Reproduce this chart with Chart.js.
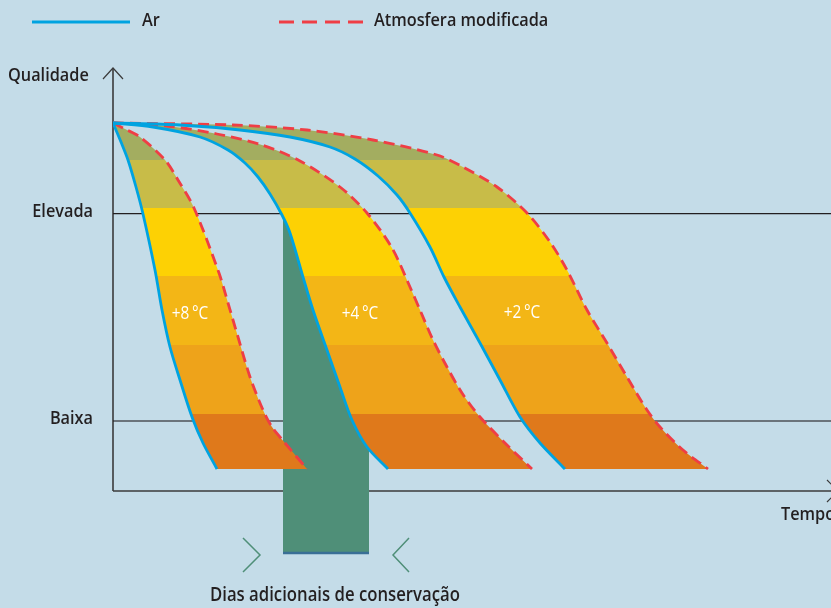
<!DOCTYPE html>
<html>
<head>
<meta charset="utf-8">
<script src="https://cdn.jsdelivr.net/npm/chart.js@4.4.1/dist/chart.umd.min.js"></script>
<style>
  html, body { margin: 0; padding: 0; background: #c4dce8; }
  canvas { display: block; }
</style>
</head>
<body>
<canvas id="grafico" width="831" height="608"></canvas>
<script>
// Escalas do gráfico (unidades arbitrárias de tempo e qualidade)
const tempoMax = 718;
const qualidadeMin = -69;
const qualidadeMax = 423;

// Níveis de qualidade marcados no eixo vertical
const qualidadeTicks = [70, 277];
const qualidadeLabels = ['Baixa', 'Elevada'];

// Curvas de perda de qualidade: Ar (linha contínua) e atmosfera modificada (tracejada)
const ar8Tempo = [0, 8, 15, 23, 30, 42, 49, 57, 67, 79, 90, 104];
const ar8Qual = [368, 349, 331, 304, 277, 221, 181, 144, 111, 74, 48, 22];
const am8Tempo = [0, 12, 27, 52, 65, 81, 106, 115, 125, 137, 150, 159, 172, 194];
const am8Qual = [368, 362, 354, 331, 311, 283, 218, 188, 154, 114, 81, 64, 48, 22];

const ar4Tempo = [0, 40, 87, 115, 132, 145, 157, 169, 177, 190, 200, 214, 227, 239, 254, 275];
const ar4Qual = [368, 364, 354, 341, 328, 314, 297, 276, 258, 214, 181, 141, 104, 71, 44, 22];
const am4Tempo = [0, 54, 104, 149, 187, 227, 254, 279, 297, 307, 320, 334, 349, 367, 394, 419];
const am4Qual = [368, 365, 357, 346, 330, 304, 278, 243, 204, 181, 151, 124, 98, 74, 46, 22];

const ar2Tempo = [0, 67, 127, 177, 217, 242, 265, 284, 297, 317, 331, 347, 367, 387, 407, 427, 452];
const ar2Qual = [368, 366, 361, 354, 344, 332, 315, 296, 278, 244, 214, 184, 148, 111, 74, 48, 22];
const am2Tempo = [0, 120, 194, 260, 324, 350, 384, 414, 437, 454, 474, 494, 514, 534, 547, 570, 595];
const am2Qual = [368, 366, 361, 351, 336, 324, 304, 278, 249, 221, 181, 148, 114, 81, 64, 41, 22];

// Rótulos das temperaturas
const temperaturas = ['+8\u2009°C', '+4\u2009°C', '+2\u2009°C'];
const temperaturaTempo = [77, 247, 409];
const temperaturaQual = [172, 172, 173];

// Dias adicionais de conservação (+4 °C, nível Elevada)
const diasTempo = [170, 256];
const diasQual = [277, -62];

// Faixas de cor (limites em qualidade, de cima para baixo)
const faixaLimites = [368, 331, 283, 215, 146, 77, 22];
const faixaCores = ['#a3ad60', '#c8bc48', '#fdd104', '#f3b616', '#eea31a', '#df791b'];

const azul = '#00a3e0';
const vermelho = '#ef3e45';
const verde = '#4f8f78';
const fundo = '#c4dce8';
const tinta = '#231f20';
const estreito = 0.88;

const pontos = (xs, ys) => xs.map((x, i) => ({ x: x, y: ys[i] }));

function faixas(chart) {
    const y = chart.scales.y;
    if (!chart.chartArea || !y) return faixaCores[2];
    const topo = y.getPixelForValue(faixaLimites[0]);
    const base = y.getPixelForValue(faixaLimites[faixaLimites.length - 1]);
    const g = chart.ctx.createLinearGradient(0, topo, 0, base);
    faixaCores.forEach((cor, i) => {
        const a = (y.getPixelForValue(faixaLimites[i]) - topo) / (base - topo);
        const b = (y.getPixelForValue(faixaLimites[i + 1]) - topo) / (base - topo);
        g.addColorStop(a, cor);
        g.addColorStop(b, cor);
    });
    return g;
}

function texto(ctx, str, x, y, size, weight, color, align) {
    ctx.save();
    ctx.font = weight + ' ' + size + "px 'Open Sans', sans-serif";
    ctx.fillStyle = color;
    ctx.textBaseline = 'alphabetic';
    ctx.textAlign = align || 'left';
    ctx.translate(x, y);
    ctx.scale(estreito, 1);
    ctx.fillText(str, 0, 0);
    ctx.restore();
}

const curvaAr = (xs, ys, alvo) => ({
    label: 'Ar',
    data: pontos(xs, ys),
    borderColor: azul,
    borderWidth: 2.8,
    backgroundColor: (c) => faixas(c.chart),
    fill: alvo,
    order: 1
});

const curvaAm = (xs, ys) => ({
    label: 'Atmosfera modificada',
    data: pontos(xs, ys),
    borderColor: vermelho,
    borderWidth: 2.8,
    borderDash: [11, 6],
    fill: false,
    order: 2
});

const datasets = [
    curvaAr(ar8Tempo, ar8Qual, 1),
    curvaAm(am8Tempo, am8Qual),
    curvaAr(ar4Tempo, ar4Qual, 3),
    curvaAm(am4Tempo, am4Qual),
    curvaAr(ar2Tempo, ar2Qual, 5),
    curvaAm(am2Tempo, am2Qual),
    {
        label: 'dias-esq',
        data: pontos([diasTempo[0], diasTempo[0]], diasQual),
        borderWidth: 0,
        borderColor: 'transparent',
        backgroundColor: verde,
        fill: 7,
        tension: 0,
        order: 5
    },
    {
        label: 'dias-dir',
        data: pontos([diasTempo[1], diasTempo[1]], diasQual),
        borderWidth: 0,
        borderColor: 'transparent',
        fill: false,
        tension: 0,
        order: 5
    },
    {
        label: 'dias-base',
        data: pontos(diasTempo, [diasQual[1], diasQual[1]]),
        borderWidth: 2.6,
        borderColor: '#3a6f96',
        fill: false,
        tension: 0,
        order: 4
    }
];

// Eixos com setas
const eixos = {
    id: 'eixos',
    beforeDraw(chart) {
        const { ctx, scales: { x, y } } = chart;
        const x0 = x.getPixelForValue(0);
        const y0 = y.getPixelForValue(0);
        const yTopo = y.getPixelForValue(qualidadeMax);
        const xFim = x.getPixelForValue(tempoMax) + 7;
        ctx.save();
        ctx.fillStyle = fundo;
        ctx.fillRect(0, 0, chart.width, chart.height);
        ctx.strokeStyle = '#3b3b3b';
        ctx.lineWidth = 1.6;
        ctx.beginPath();
        ctx.moveTo(x0, y0);
        ctx.lineTo(x0, yTopo);
        ctx.moveTo(x0, y0);
        ctx.lineTo(xFim, y0);
        ctx.stroke();
        ctx.lineWidth = 1.2;
        ctx.beginPath();
        ctx.moveTo(x0 - 10, yTopo + 11);
        ctx.lineTo(x0, yTopo);
        ctx.lineTo(x0 + 10, yTopo + 11);
        ctx.moveTo(xFim - 11, y0 - 11);
        ctx.lineTo(xFim, y0);
        ctx.lineTo(xFim - 11, y0 + 11);
        ctx.stroke();
        ctx.restore();
    }
};

// Rótulos das temperaturas dentro das faixas
const rotulos = {
    id: 'rotulos',
    afterDatasetsDraw(chart) {
        const { ctx, scales: { x, y } } = chart;
        temperaturas.forEach((t, i) => {
            texto(ctx, t, x.getPixelForValue(temperaturaTempo[i]), y.getPixelForValue(temperaturaQual[i]),
                17.5, 500, '#ffffff', 'center');
        });
    }
};

// Legenda, títulos dos eixos e nota dos dias adicionais
const anotacoes = {
    id: 'anotacoes',
    afterDraw(chart) {
        const { ctx, scales: { x, y } } = chart;
        const ds = chart.data.datasets;

        // legenda
        const itens = [[ds[0], 32, 130, 142], [ds[1], 279, 365, 374]];
        itens.forEach(([d, x1, x2, xt]) => {
            ctx.save();
            ctx.strokeStyle = d.borderColor;
            ctx.lineWidth = 3;
            ctx.setLineDash(d.borderDash ? [15, 8] : []);
            ctx.beginPath();
            ctx.moveTo(x1, 22);
            ctx.lineTo(x2, 22);
            ctx.stroke();
            ctx.restore();
            texto(ctx, d.label, xt, 26, 18.5, 600, tinta);
        });

        // títulos e níveis dos eixos
        texto(ctx, 'Qualidade', 8, 81, 18.5, 600, tinta);
        texto(ctx, 'Tempo', 781, 520, 18.5, 600, tinta);
        qualidadeTicks.forEach((v, i) => {
            texto(ctx, qualidadeLabels[i], 93, y.getPixelForValue(v) + 2.5, 18.5, 600, tinta, 'right');
        });

        // setas e texto dos dias adicionais
        const xa = x.getPixelForValue(diasTempo[0]);
        const xb = x.getPixelForValue(diasTempo[1]);
        const yc = y.getPixelForValue(diasQual[1]) + 2;
        ctx.save();
        ctx.strokeStyle = verde;
        ctx.lineWidth = 1.5;
        ctx.beginPath();
        ctx.moveTo(xa - 40, yc - 17);
        ctx.lineTo(xa - 23, yc);
        ctx.lineTo(xa - 40, yc + 17);
        ctx.moveTo(xb + 40, yc - 17);
        ctx.lineTo(xb + 24, yc);
        ctx.lineTo(xb + 40, yc + 17);
        ctx.stroke();
        ctx.restore();
        texto(ctx, 'Dias adicionais de conservação', xa - 73, 601, 19, 600, tinta);
    }
};

new Chart(document.getElementById('grafico'), {
    type: 'line',
    data: { datasets: datasets },
    options: {
        responsive: false,
        animation: false,
        indexAxis: 'y',
        layout: { padding: { left: 0, right: 0, top: 68, bottom: 48 } },
        elements: {
            point: { radius: 0, hoverRadius: 0 },
            line: { tension: 0.3 }
        },
        plugins: {
            legend: { display: false },
            tooltip: { enabled: false },
            filler: { drawTime: 'beforeDatasetsDraw', propagate: false }
        },
        scales: {
            x: { type: 'linear', display: false, min: 0, max: tempoMax },
            y: {
                type: 'linear',
                min: qualidadeMin,
                max: qualidadeMax,
                z: 1,
                afterBuildTicks: (s) => { s.ticks = qualidadeTicks.map(v => ({ value: v })); },
                afterFit: (s) => { s.width = 113; },
                ticks: { display: false },
                border: { display: false },
                grid: {
                    drawTicks: false,
                    color: (c) => c.tick && c.tick.value === qualidadeTicks[0] ? 'rgba(35,31,32,0.55)' : tinta,
                    lineWidth: (c) => c.tick && c.tick.value === qualidadeTicks[0] ? 2 : 1.2
                }
            }
        }
    },
    plugins: [eixos, rotulos, anotacoes]
});
</script>
</body>
</html>
